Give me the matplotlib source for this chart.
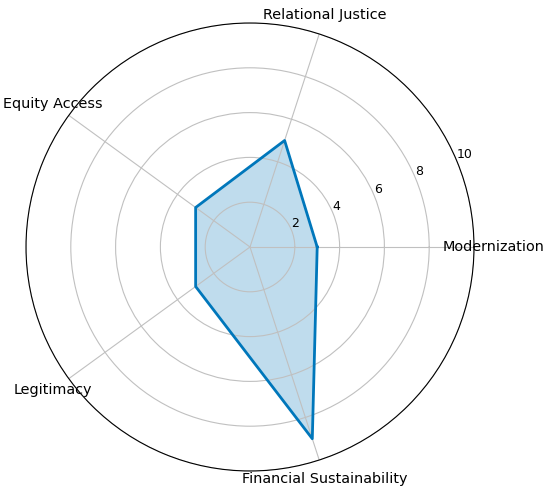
import numpy as np
import matplotlib.pyplot as plt

categories = ['Modernization', 'Relational Justice', 'Equity Access', 'Legitimacy', 'Financial Sustainability']
values = [3, 5, 3, 3, 9]

angles = np.linspace(0, 2 * np.pi, len(categories), endpoint=False).tolist()
vals = values + values[:1]
angs = angles + angles[:1]

fig = plt.figure(figsize=(5.5, 4.95), dpi=100)
ax = fig.add_axes([26 / 550, 24 / 495, 448 / 550, 448 / 495], polar=True)
ax.plot(angs, vals, color='#0077BB', linewidth=2)
ax.fill(angs, vals, color='#0077BB', alpha=0.25)
ax.set_xticks(angles)
ax.set_xticklabels(categories, fontsize=10.4)
ax.set_ylim(0, 10)
ax.set_yticks([2, 4, 6, 8, 10])
ax.set_yticklabels(['2', '4', '6', '8', '10'], fontsize=9)
ax.grid(color='#c0c0c0')

fig.savefig('out.png', dpi=100)
